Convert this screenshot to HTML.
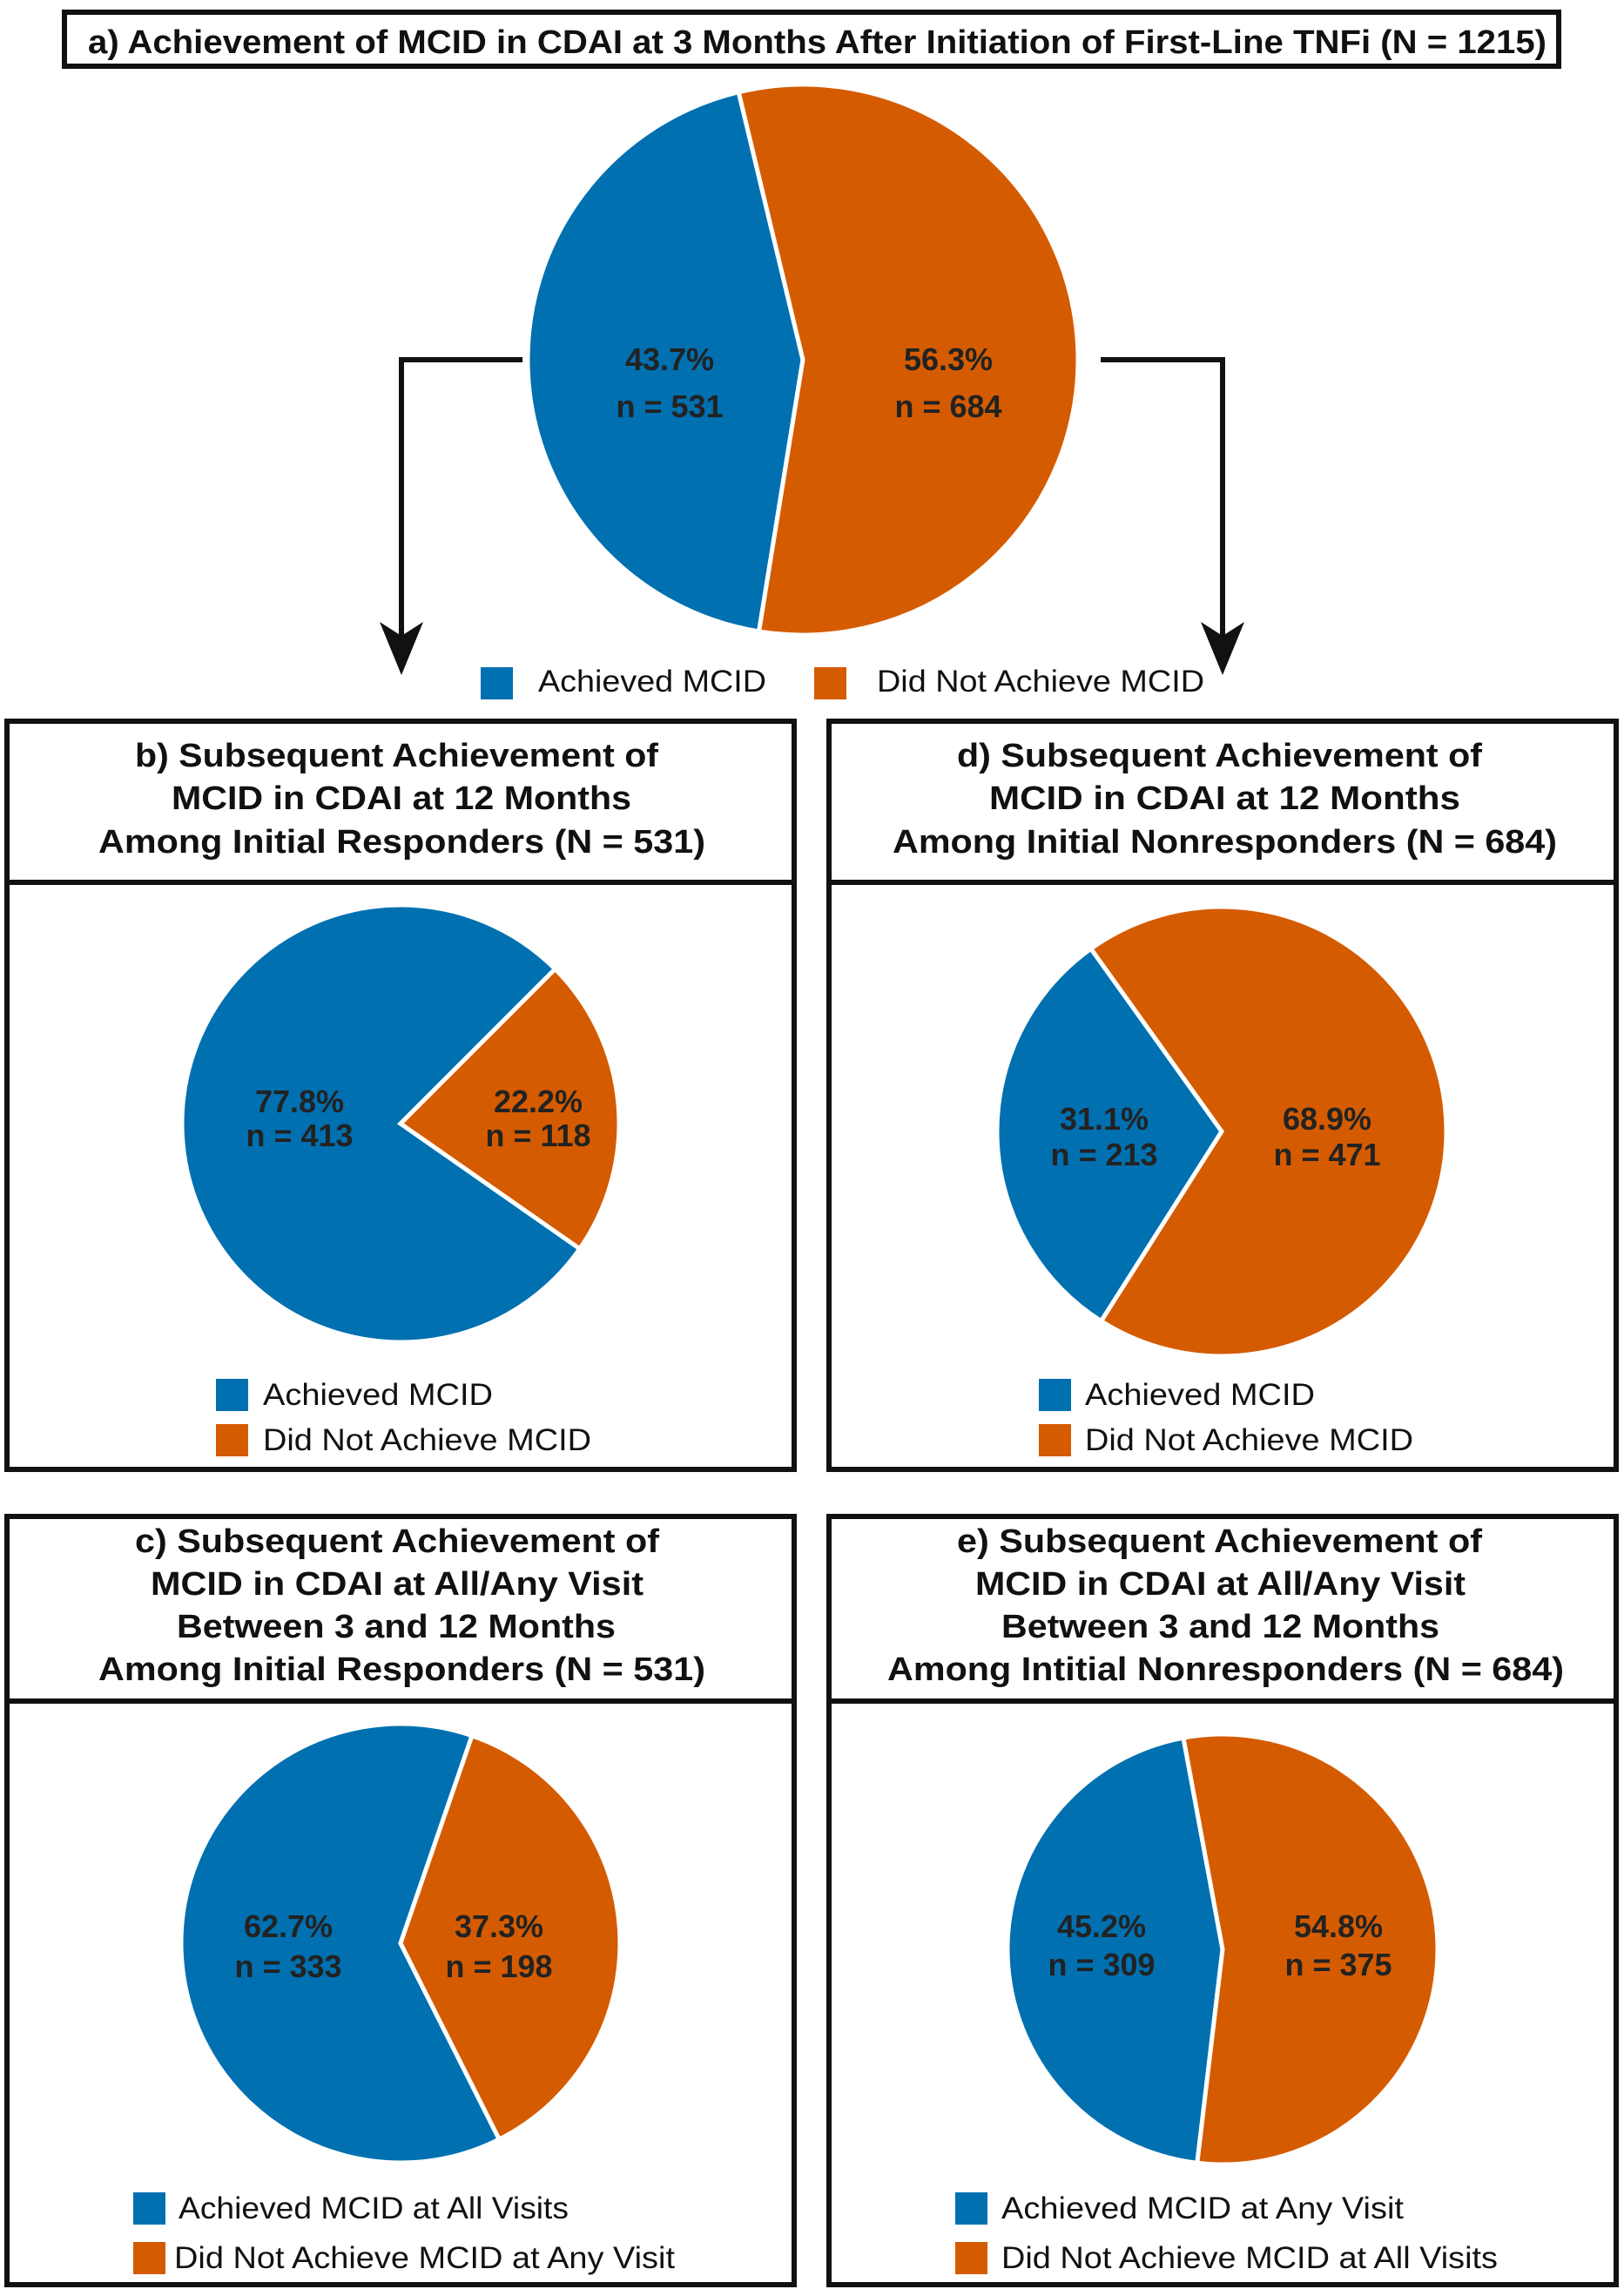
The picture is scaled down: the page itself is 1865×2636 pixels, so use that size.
<!DOCTYPE html>
<html><head><meta charset="utf-8"><style>
html,body{margin:0;padding:0;background:#fff}
svg{display:block}
text{font-family:"Liberation Sans",sans-serif}
.h{font-weight:bold;font-size:38px;fill:#111}
.l{font-size:35px;fill:#111}
.p{font-weight:bold;font-size:36px;fill:#222}
</style></head><body>
<svg id="fig" width="1865" height="2636" viewBox="0 0 1865 2636" xmlns="http://www.w3.org/2000/svg">
<rect x="74" y="14" width="1716" height="62" fill="#fff" stroke="#111" stroke-width="6"/>
<text class="h" x="101" y="61" textLength="1675" lengthAdjust="spacingAndGlyphs">a)  Achievement of MCID in CDAI at 3 Months After Initiation of First-Line TNFi (N = 1215)</text>

<g>
<polyline points="600,413 461,413 461,745" fill="none" stroke="#111" stroke-width="6"/>
<polygon points="436,714 461,730 486,714 461,775" fill="#111"/>
</g>
<g>
<polyline points="1264,413 1404,413 1404,745" fill="none" stroke="#111" stroke-width="6"/>
<polygon points="1379,714 1404,730 1429,714 1404,775" fill="#111"/>
</g>

<rect x="552" y="766" width="37" height="37" fill="#0070b0"/>
<text class="l" x="618" y="794" textLength="262" lengthAdjust="spacingAndGlyphs">Achieved MCID</text>
<rect x="935" y="766" width="37" height="37" fill="#d55b00"/>
<text class="l" x="1007" y="794" textLength="376" lengthAdjust="spacingAndGlyphs">Did Not Achieve MCID</text>

<g>
<rect x="8" y="828" width="904" height="859" fill="none" stroke="#111" stroke-width="6"/>
<line x1="8" y1="1013" x2="912" y2="1013" stroke="#111" stroke-width="6"/>
<text class="h" x="155" y="880" textLength="601" lengthAdjust="spacingAndGlyphs">b) Subsequent Achievement of</text>
<text class="h" x="197" y="929" textLength="528" lengthAdjust="spacingAndGlyphs">MCID in CDAI at 12 Months</text>
<text class="h" x="113" y="979" textLength="697" lengthAdjust="spacingAndGlyphs">Among Initial Responders (N = 531)</text>
<rect x="248" y="1583" width="37" height="37" fill="#0070b0"/>
<text class="l" x="302" y="1613" textLength="264" lengthAdjust="spacingAndGlyphs">Achieved MCID</text>
<rect x="248" y="1635" width="37" height="37" fill="#d55b00"/>
<text class="l" x="302" y="1665" textLength="377" lengthAdjust="spacingAndGlyphs">Did Not Achieve MCID</text>
</g>
<g>
<rect x="952" y="828" width="904" height="859" fill="none" stroke="#111" stroke-width="6"/>
<line x1="952" y1="1013" x2="1856" y2="1013" stroke="#111" stroke-width="6"/>
<text class="h" x="1099" y="880" textLength="603" lengthAdjust="spacingAndGlyphs">d) Subsequent Achievement of</text>
<text class="h" x="1136" y="929" textLength="541" lengthAdjust="spacingAndGlyphs">MCID in CDAI  at 12 Months</text>
<text class="h" x="1025" y="979" textLength="763" lengthAdjust="spacingAndGlyphs">Among Initial Nonresponders (N = 684)</text>
<rect x="1193" y="1583" width="37" height="37" fill="#0070b0"/>
<text class="l" x="1246" y="1613" textLength="264" lengthAdjust="spacingAndGlyphs">Achieved MCID</text>
<rect x="1193" y="1635" width="37" height="37" fill="#d55b00"/>
<text class="l" x="1246" y="1665" textLength="377" lengthAdjust="spacingAndGlyphs">Did Not Achieve MCID</text>
</g>
<g>
<rect x="8" y="1741" width="904" height="882" fill="none" stroke="#111" stroke-width="6"/>
<line x1="8" y1="1953" x2="912" y2="1953" stroke="#111" stroke-width="6"/>
<text class="h" x="155" y="1782" textLength="602" lengthAdjust="spacingAndGlyphs">c) Subsequent Achievement of</text>
<text class="h" x="173" y="1831" textLength="566" lengthAdjust="spacingAndGlyphs">MCID in CDAI at All/Any Visit</text>
<text class="h" x="203" y="1880" textLength="504" lengthAdjust="spacingAndGlyphs">Between 3 and 12 Months</text>
<text class="h" x="113" y="1929" textLength="697" lengthAdjust="spacingAndGlyphs">Among Initial Responders (N = 531)</text>
<rect x="153" y="2517" width="37" height="37" fill="#0070b0"/>
<text class="l" x="205" y="2547" textLength="448" lengthAdjust="spacingAndGlyphs">Achieved MCID at All Visits</text>
<rect x="153" y="2574" width="37" height="37" fill="#d55b00"/>
<text class="l" x="200" y="2604" textLength="575" lengthAdjust="spacingAndGlyphs">Did Not Achieve MCID at Any Visit</text>
</g>
<g>
<rect x="952" y="1741" width="904" height="882" fill="none" stroke="#111" stroke-width="6"/>
<line x1="952" y1="1953" x2="1856" y2="1953" stroke="#111" stroke-width="6"/>
<text class="h" x="1099" y="1782" textLength="603" lengthAdjust="spacingAndGlyphs">e) Subsequent Achievement of</text>
<text class="h" x="1120" y="1831" textLength="563" lengthAdjust="spacingAndGlyphs">MCID in CDAI at All/Any Visit</text>
<text class="h" x="1150" y="1880" textLength="503" lengthAdjust="spacingAndGlyphs">Between 3 and 12 Months</text>
<text class="h" x="1019" y="1929" textLength="777" lengthAdjust="spacingAndGlyphs">Among Intitial Nonresponders (N = 684)</text>
<rect x="1097" y="2517" width="37" height="37" fill="#0070b0"/>
<text class="l" x="1150" y="2547" textLength="462" lengthAdjust="spacingAndGlyphs">Achieved MCID at Any Visit</text>
<rect x="1097" y="2574" width="37" height="37" fill="#d55b00"/>
<text class="l" x="1150" y="2604" textLength="570" lengthAdjust="spacingAndGlyphs">Did Not Achieve MCID at All Visits</text>
</g>
<g id="pies"></g>
</svg>
<script>
// Data
const pieIds = ['a', 'b', 'd', 'c', 'e'];
const achievedPct = [43.7, 77.8, 31.1, 62.7, 45.2];
const notAchievedPct = [56.3, 22.2, 68.9, 37.3, 54.8];
const achievedN = [531, 413, 213, 333, 309];
const notAchievedN = [684, 118, 471, 198, 375];

// Layout (not data)
const layout = [
  {cx: 922, cy: 413, r: 316, start: -13.5, lx: [769, 1089], ly: [425, 479]},
  {cx: 460, cy: 1290, r: 251, start: 45, lx: [344, 618], ly: [1277, 1316]},
  {cx: 1403, cy: 1299, r: 258, start: -35.6, lx: [1268, 1524], ly: [1297, 1338]},
  {cx: 460, cy: 2231, r: 252, start: 19, lx: [331, 573], ly: [2224, 2270]},
  {cx: 1404, cy: 2238, r: 247, start: -10.5, lx: [1265, 1537], ly: [2224, 2268]}
];
const NS = 'http://www.w3.org/2000/svg';
const g = document.getElementById('pies');
function pt(cx, cy, r, deg) {
  const a = deg * Math.PI / 180;
  return [cx + r * Math.sin(a), cy - r * Math.cos(a)];
}
function wedge(L, a0, a1, color) {
  const p0 = pt(L.cx, L.cy, L.r, a0), p1 = pt(L.cx, L.cy, L.r, a1);
  const large = (a1 - a0) > 180 ? 1 : 0;
  const p = document.createElementNS(NS, 'path');
  p.setAttribute('d', `M${L.cx},${L.cy} L${p0[0]},${p0[1]} A${L.r},${L.r} 0 ${large} 1 ${p1[0]},${p1[1]} Z`);
  p.setAttribute('fill', color);
  p.setAttribute('stroke', '#fff');
  p.setAttribute('stroke-width', '5');
  p.setAttribute('stroke-linejoin', 'miter');
  return p;
}
function label(x, y, txt) {
  const t = document.createElementNS(NS, 'text');
  t.setAttribute('x', x); t.setAttribute('y', y);
  t.setAttribute('class', 'p');
  t.setAttribute('text-anchor', 'middle');
  t.textContent = txt;
  return t;
}
pieIds.forEach((id, i) => {
  const L = layout[i];
  const oSweep = notAchievedPct[i] / (achievedPct[i] + notAchievedPct[i]) * 360;
  const o = wedge(L, L.start, L.start + oSweep, '#d55b00');
  
  
  const b = wedge(L, L.start + oSweep, L.start + 360, '#0070b0');
  
  
  g.appendChild(b); g.appendChild(o);
  const t1 = label(L.lx[0], L.ly[0], achievedPct[i].toFixed(1) + '%');
  
  
  const t2 = label(L.lx[0], L.ly[1], 'n = ' + achievedN[i]);
  
  
  const t3 = label(L.lx[1], L.ly[0], notAchievedPct[i].toFixed(1) + '%');
  
  
  const t4 = label(L.lx[1], L.ly[1], 'n = ' + notAchievedN[i]);
  
  
  [t1, t2, t3, t4].forEach(t => g.appendChild(t));
});
</script>
</body></html>
